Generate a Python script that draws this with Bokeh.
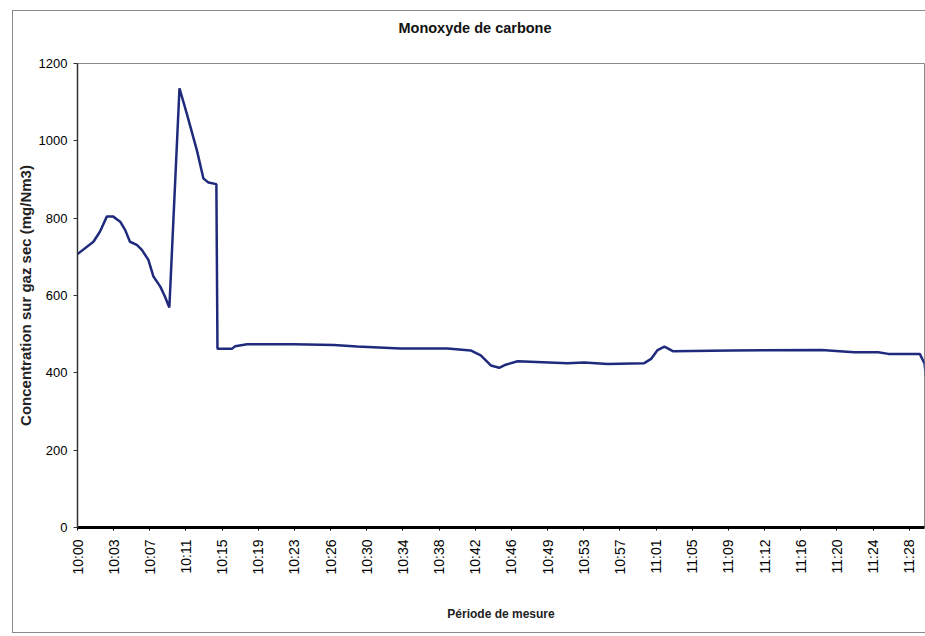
import math
from bokeh.plotting import figure
from bokeh.models import Range1d, FixedTicker, Div
from bokeh.layouts import column
from bokeh.embed import file_html
from bokeh.resources import INLINE

# Category tick labels (one every label slot)
tick_labels = ["10:00", "10:03", "10:07", "10:11", "10:15", "10:19", "10:23", "10:26",
               "10:30", "10:34", "10:38", "10:42", "10:46", "10:49", "10:53", "10:57",
               "11:01", "11:05", "11:09", "11:12", "11:16", "11:20", "11:24", "11:28"]

# x positions of read points, in label-slot units (0 = 10:00, 23 = 11:28)
x_pos = [0.00, 0.44, 0.62, 0.81, 0.99, 1.18, 1.32, 1.45, 1.64, 1.78, 1.96, 2.10,
         2.29, 2.42, 2.54, 2.82, 3.02, 3.30, 3.48, 3.62, 3.84, 3.87, 4.27, 4.36,
         4.69, 5.98, 7.09, 7.73, 8.93, 10.23, 10.87, 11.15, 11.43, 11.66, 11.84,
         12.17, 13.55, 14.01, 14.66, 15.67, 15.86, 16.04, 16.23, 16.46, 18.07,
         20.57, 21.48, 22.14, 22.42, 23.29, 23.42, 23.50]

# CO concentration on dry gas (mg/Nm3)
co = [707, 739, 765, 804, 804, 791, 769, 739, 731, 718, 692, 649,
      623, 597, 569, 1136, 1071, 976, 903, 892, 888, 462, 462, 469,
      474, 474, 472, 468, 463, 463, 458, 445, 419, 413, 421,
      430, 425, 427, 423, 425, 436, 459, 468, 456, 458,
      459, 453, 453, 449, 449, 424, 360]

y_ticks = [0, 200, 400, 600, 800, 1000, 1200]

title_text = "Monoxyde de carbone"
y_label_text = "Concentration sur gaz sec (mg/Nm3)"
x_label_text = "Période de mesure"

FONT = "Liberation Sans"

title_div = Div(text=title_text, width=912, height=34, margin=0,
                styles={"font-family": FONT, "font-size": "14.5px",
                        "font-weight": "bold", "color": "#111111",
                        "text-align": "center", "line-height": "34px",
                        "text-indent": "12px"})

p = figure(width=912, height=587, output_backend="svg", toolbar_location=None,
           x_range=Range1d(0, 23.42), y_range=Range1d(0, 1200),
           min_border_left=64, min_border_right=1, min_border_top=18,
           min_border_bottom=105, margin=0)

p.background_fill_color = "white"
p.border_fill_color = "white"
p.outline_line_color = "#8a8a8a"
p.outline_line_width = 1
p.xgrid.visible = False
p.ygrid.visible = False

p.line(x_pos, co, line_color="#1f2a7d", line_width=2.5)

# X axis
xa = p.xaxis[0]
xa.ticker = FixedTicker(ticks=list(range(len(tick_labels))))
xa.major_label_overrides = {i: t for i, t in enumerate(tick_labels)}
xa.major_label_orientation = math.pi / 2
xa.major_label_text_font = FONT
xa.major_label_text_font_size = "14px"
xa.major_label_text_color = "black"
xa.major_label_standoff = 9
xa.axis_line_color = "black"
xa.axis_line_width = 3
xa.major_tick_line_color = "black"
xa.major_tick_out = 3
xa.major_tick_in = 0
xa.minor_tick_line_color = None
xa.axis_label = x_label_text
xa.axis_label_text_font = FONT
xa.axis_label_text_font_size = "12px"
xa.axis_label_text_font_style = "bold"
xa.axis_label_text_color = "#222222"
xa.axis_label_standoff = 29

# Y axis
ya = p.yaxis[0]
ya.ticker = FixedTicker(ticks=y_ticks)
ya.major_label_text_font = FONT
ya.major_label_text_font_size = "13px"
ya.major_label_text_color = "black"
ya.major_label_standoff = 6
ya.axis_line_color = "#333333"
ya.axis_line_width = 1.5
ya.major_tick_line_color = "#333333"
ya.major_tick_out = 4
ya.major_tick_in = 0
ya.minor_tick_line_color = None
ya.axis_label = y_label_text
ya.axis_label_text_font = FONT
ya.axis_label_text_font_size = "15px"
ya.axis_label_text_font_style = "bold"
ya.axis_label_text_color = "#222222"
ya.axis_label_standoff = 2

layout = column(title_div, p, spacing=0, margin=(10, 0, 0, 12),
                styles={"border-left": "1px solid #8a8a8a",
                        "border-top": "1px solid #8a8a8a",
                        "border-bottom": "1px solid #8a8a8a",
                        "background-color": "white"})

open("out.html", "w").write(file_html(layout, INLINE))
